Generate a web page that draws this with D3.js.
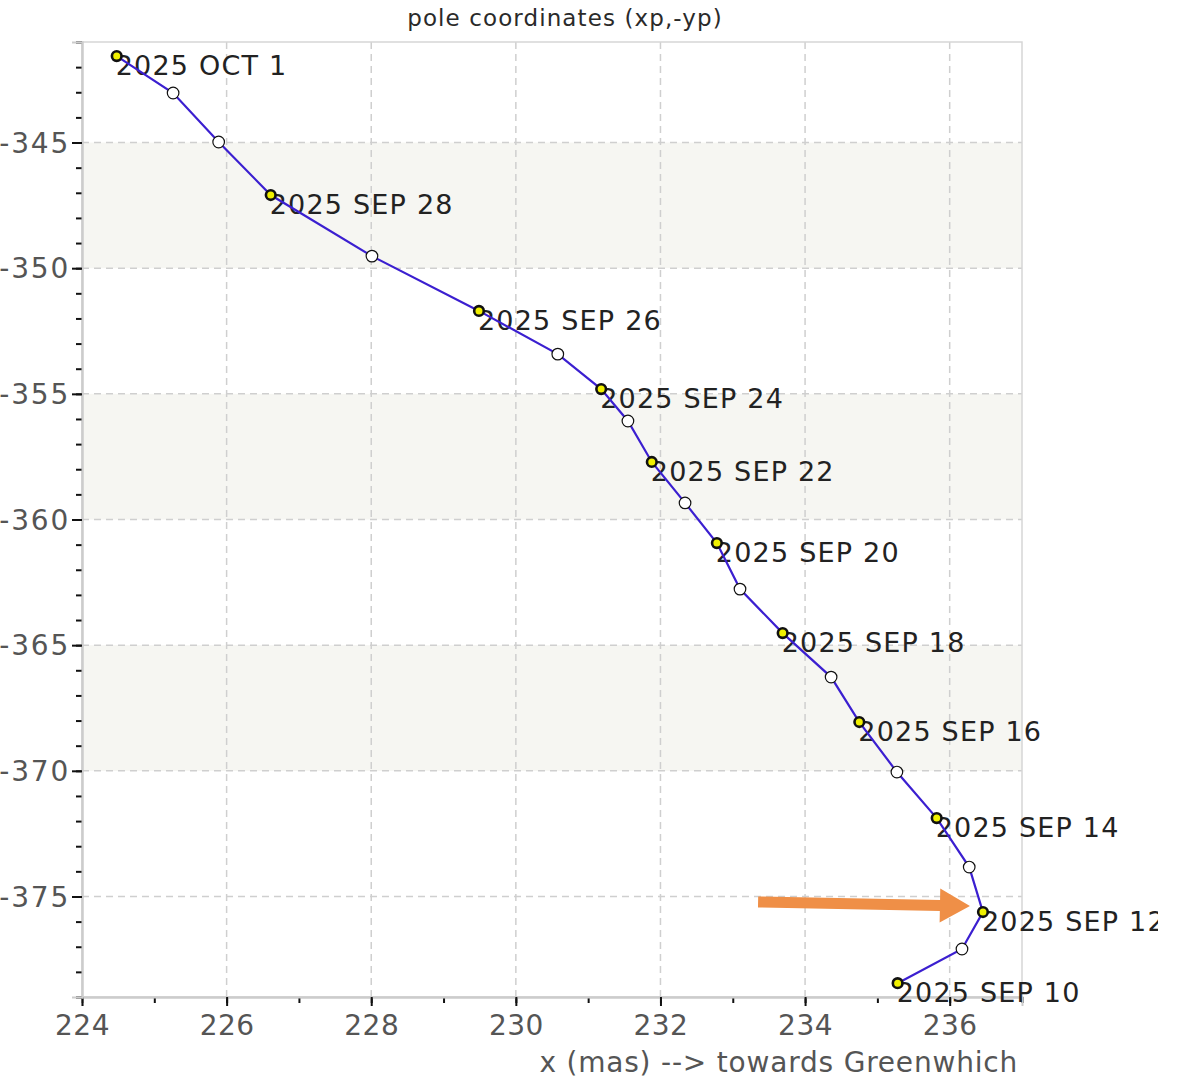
<!DOCTYPE html>
<html>
<head>
<meta charset="utf-8">
<script src="https://cdn.jsdelivr.net/npm/d3@7"></script>
<style>
  html, body { margin: 0; padding: 0; background: #fff; }
  svg { display: block; font-family: "DejaVu Sans", Verdana, sans-serif; }
</style>
</head>
<body>
<svg id="chart" width="1200" height="1092"></svg>
<script>
// ---- data (Sep 10 .. Oct 1, 2025), x = xp, y = -yp (mas) ----
const dayLabels = ["2025 SEP 10", "", "2025 SEP 12", "", "2025 SEP 14", "", "2025 SEP 16", "",
  "2025 SEP 18", "", "2025 SEP 20", "", "2025 SEP 22", "", "2025 SEP 24", "", "2025 SEP 26", "",
  "2025 SEP 28", "", "", "2025 OCT 1"];
const xValues = [235.28, 236.17, 236.46, 236.27, 235.82, 235.27, 234.75, 234.36, 233.69, 233.10,
  232.78, 232.34, 231.88, 231.55, 231.18, 230.58, 229.49, 228.01, 226.61, 225.89, 225.26, 224.48];
const yValues = [-378.45, -377.09, -375.62, -373.83, -371.88, -370.05, -368.06, -366.27, -364.52, -362.77,
  -360.94, -359.34, -357.71, -356.08, -354.81, -353.42, -351.70, -349.52, -347.09, -344.98, -343.03, -341.56];
const xTicks = [224, 226, 228, 230, 232, 234, 236];
const yTicks = [-345, -350, -355, -360, -365, -370, -375];
const shadedBands = [[-350, -345], [-360, -355], [-370, -365]];
const xDomain = [224, 237];
const yDomain = [-379, -341];
const titleText = "pole coordinates (xp,-yp)";
const xTitleText = "x (mas) --> towards Greenwhich";
// annotation arrow (data coords): tail and tip
const arrowTail = [233.35, -375.22];
const arrowTip = [236.28, -375.38];

const data = dayLabels.map((l, i) => ({label: l, x: xValues[i], y: yValues[i]}));

const svg = d3.select("#chart");
const L = 82, R = 1022, T = 42, B = 997;
const x = d3.scaleLinear().domain(xDomain).range([L, R]);
const y = d3.scaleLinear().domain(yDomain).range([B, T]);

// shaded bands
svg.append("g").selectAll("rect").data(shadedBands).join("rect")
  .attr("x", L).attr("width", R - L)
  .attr("y", d => y(d[1])).attr("height", d => y(d[0]) - y(d[1]))
  .attr("fill", "#f6f6f2");

// grid
const grid = svg.append("g").attr("stroke", "#cfcfcf").attr("stroke-width", 1.5).attr("stroke-dasharray", "7,5");
grid.selectAll("line.v").data(xTicks.slice(1)).join("line")
  .attr("x1", d => x(d)).attr("x2", d => x(d)).attr("y1", T).attr("y2", B);
grid.selectAll("line.h").data(yTicks).join("line")
  .attr("x1", L).attr("x2", R).attr("y1", d => y(d)).attr("y2", d => y(d));

// plot frame
svg.append("rect").attr("x", L).attr("y", T).attr("width", R - L).attr("height", B - T)
  .attr("fill", "none").attr("stroke", "#d6d6d6").attr("stroke-width", 1.5);

// axes
const minorX = d3.range(224, 238, 1);
const minorY = d3.range(-379, -340, 1);
const xAxisMinor = d3.axisBottom(x).tickValues(minorX).tickSize(6).tickFormat("");
const xAxis = d3.axisBottom(x).tickValues(xTicks).tickSize(9).tickPadding(9).tickFormat(d3.format("d"));
const yAxisMinor = d3.axisLeft(y).tickValues(minorY).tickSize(6).tickFormat("");
const yAxis = d3.axisLeft(y).tickValues(yTicks).tickSize(10).tickPadding(2).tickFormat(d => d3.format("d")(d).replace("−", "-"));

function styleAxis(g) {
  g.select(".domain").attr("stroke", "#cccccc").attr("stroke-width", 2);
  g.selectAll(".tick line").attr("stroke", "#111").attr("stroke-width", 2);
  g.selectAll(".tick text").attr("fill", "#555").style("font-size", "28px")
    .style("font-family", "'DejaVu Sans', Verdana, sans-serif");
}
svg.append("g").attr("transform", `translate(0,${B})`).call(xAxisMinor).call(styleAxis);
svg.append("g").attr("transform", `translate(0,${B})`).call(xAxis).call(styleAxis)
  .selectAll(".tick text").attr("letter-spacing", "0.5");
svg.append("g").attr("transform", `translate(${L},0)`).call(yAxisMinor).call(styleAxis);
svg.append("g").attr("transform", `translate(${L},0)`).call(yAxis).call(styleAxis)
  .selectAll(".tick text").attr("dy", "0.34em").attr("letter-spacing", "1.8");

// titles
svg.append("text").attr("x", 565).attr("y", 26).attr("text-anchor", "middle")
  .attr("fill", "#2a2a2a").style("font-size", "23px").attr("letter-spacing", "1.1")
  .text(titleText);
svg.append("text").attr("x", R - 4).attr("y", 1072).attr("text-anchor", "end")
  .attr("fill", "#555").style("font-size", "28px").attr("letter-spacing", "0.8").text(xTitleText);

// point labels (clipped at canvas edge like the reference)
svg.append("defs").append("clipPath").attr("id", "clipLbl")
  .append("rect").attr("x", 0).attr("y", 0).attr("width", 1158).attr("height", 1092);
svg.append("g").attr("clip-path", "url(#clipLbl)")
  .selectAll("text").data(data.filter(d => d.label)).join("text")
  .attr("x", d => x(d.x) - 1).attr("y", d => y(d.y) + 19)
  .attr("fill", "#222").style("font-size", "27px").attr("letter-spacing", "1.2")
  .text(d => d.label);

// line
const line = d3.line().x(d => x(d.x)).y(d => y(d.y));
svg.append("path").datum(data).attr("d", line)
  .attr("fill", "none").attr("stroke", "#3b1fd0").attr("stroke-width", 2.2);

// markers
svg.append("g").selectAll("circle").data(data).join("circle")
  .attr("cx", d => x(d.x)).attr("cy", d => y(d.y))
  .attr("r", d => d.label ? 4.8 : 5.8)
  .attr("fill", d => d.label ? "#f0f000" : "#fff")
  .attr("stroke", "#111")
  .attr("stroke-width", d => d.label ? 2.6 : 1.2);

// arrow annotation
const tx = x(arrowTail[0]), ty = y(arrowTail[1]);
const px = x(arrowTip[0]), py = y(arrowTip[1]);
const ang = Math.atan2(py - ty, px - tx);
const len = Math.hypot(px - tx, py - ty);
const headLen = 30, headHalf = 17, shaftHalf = 5.5;
const pts = [
  [0, -shaftHalf], [len - headLen, -shaftHalf], [len - headLen, -headHalf], [len, 0],
  [len - headLen, headHalf], [len - headLen, shaftHalf], [0, shaftHalf]
].map(([a, b]) => [tx + a * Math.cos(ang) - b * Math.sin(ang), ty + a * Math.sin(ang) + b * Math.cos(ang)]);
svg.append("polygon").attr("points", pts.map(p => p.join(",")).join(" "))
  .attr("fill", "#ef8f47");
</script>
</body>
</html>
